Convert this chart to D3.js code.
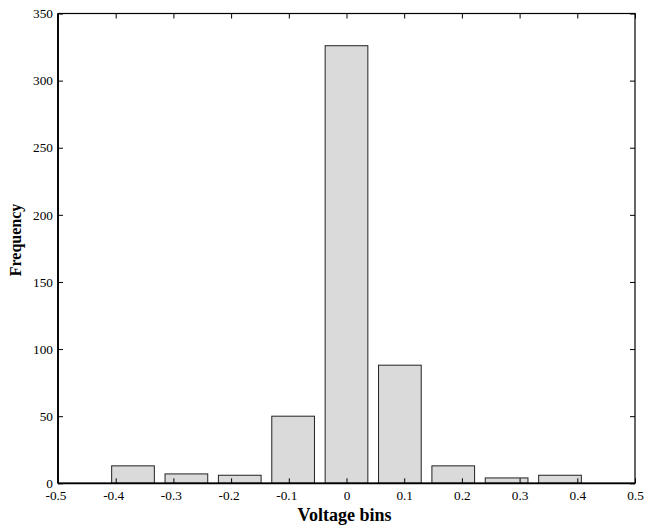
<!DOCTYPE html>
<html>
<head>
<meta charset="utf-8">
<script src="https://cdn.jsdelivr.net/npm/d3@7"></script>
<style>
  html, body { margin: 0; padding: 0; background: #fff; }
  svg { display: block; }
  text { font-family: "Liberation Serif", "Times New Roman", serif; fill: #000; }
</style>
</head>
<body>
<svg id="chart" width="645" height="527"></svg>
<script>
// Histogram of voltage samples: bin centres and counts
const binCenters = [-0.37, -0.2775, -0.185, -0.0925, 0, 0.0925, 0.185, 0.2775, 0.37];
const counts = [13, 7, 6, 50, 326, 88, 13, 4, 6];
const binWidth = 0.0925;
const barFraction = 0.8;
const xTicks = [-0.5, -0.4, -0.3, -0.2, -0.1, 0, 0.1, 0.2, 0.3, 0.4, 0.5];
const yTicks = [0, 50, 100, 150, 200, 250, 300, 350];
const xLabel = "Voltage bins";
const yLabel = "Frequency";

const W = 645, H = 527;
const margin = { left: 58, right: 10, top: 13.5, bottom: 43.7 };
const x0 = margin.left, x1 = W - margin.right;
const y0 = H - margin.bottom, y1 = margin.top;

const x = d3.scaleLinear().domain([-0.5, 0.5]).range([x0, x1]);
const y = d3.scaleLinear().domain([0, 350]).range([y0, y1]);

const svg = d3.select("#chart");

// bars
svg.append("g")
  .selectAll("rect")
  .data(binCenters.map((c, i) => ({ c, n: counts[i] })))
  .join("rect")
  .attr("x", d => x(d.c - binWidth * barFraction / 2))
  .attr("width", d => x(d.c + binWidth * barFraction / 2) - x(d.c - binWidth * barFraction / 2))
  .attr("y", d => y(d.n))
  .attr("height", d => y(0) - y(d.n))
  .attr("fill", "#dadada")
  .attr("stroke", "#222")
  .attr("stroke-width", 1);

const fmt = d => d === 0 ? "0" : d3.format(".1f")(d).replace("−", "-");
const tickLen = 5;

// bottom axis (inward ticks) and labels
const axBottom = svg.append("g").attr("transform", `translate(0,${y0})`)
  .call(d3.axisBottom(x).tickValues(xTicks).tickSize(-tickLen).tickPadding(7).tickFormat(fmt));
// top axis: ticks only
const axTop = svg.append("g").attr("transform", `translate(0,${y1})`)
  .call(d3.axisTop(x).tickValues(xTicks).tickSize(-tickLen).tickFormat(""));
// left axis
const axLeft = svg.append("g").attr("transform", `translate(${x0},0)`)
  .call(d3.axisLeft(y).tickValues(yTicks).tickSize(-tickLen).tickPadding(5).tickFormat(d3.format("d")));
// right axis: ticks only
const axRight = svg.append("g").attr("transform", `translate(${x1},0)`)
  .call(d3.axisRight(y).tickValues(yTicks).tickSize(-tickLen).tickFormat(""));

[axBottom, axTop, axLeft, axRight].forEach(g => {
  g.select(".domain").remove();
  g.selectAll(".tick line").attr("stroke", "#000").attr("stroke-width", 1);
  g.selectAll("text").attr("font-size", 13.3).attr("font-family", "Liberation Serif").attr("fill", "#000");
});
axBottom.selectAll(".tick text").attr("dx", d => d < 0 ? -2.5 : 0);

// axes box
svg.append("rect")
  .attr("x", x0).attr("y", y1)
  .attr("width", x1 - x0).attr("height", y0 - y1)
  .attr("fill", "none").attr("stroke", "#000").attr("stroke-width", 1.2);
svg.append("line").attr("x1", x0).attr("x2", x0).attr("y1", y1).attr("y2", y0)
  .attr("stroke", "#000").attr("stroke-width", 1.8);
svg.append("line").attr("x1", x0).attr("x2", x1).attr("y1", y0).attr("y2", y0)
  .attr("stroke", "#000").attr("stroke-width", 1.8);

// axis titles
svg.append("text")
  .attr("x", (x0 + x1) / 2 - 2).attr("y", 521)
  .attr("text-anchor", "middle")
  .attr("font-size", 18).attr("font-weight", "bold")
  .text(xLabel);
svg.append("text")
  .attr("transform", `translate(21,${240}) rotate(-90)`)
  .attr("text-anchor", "middle")
  .attr("font-size", 16).attr("font-weight", "bold")
  .text(yLabel);
</script>
</body>
</html>
